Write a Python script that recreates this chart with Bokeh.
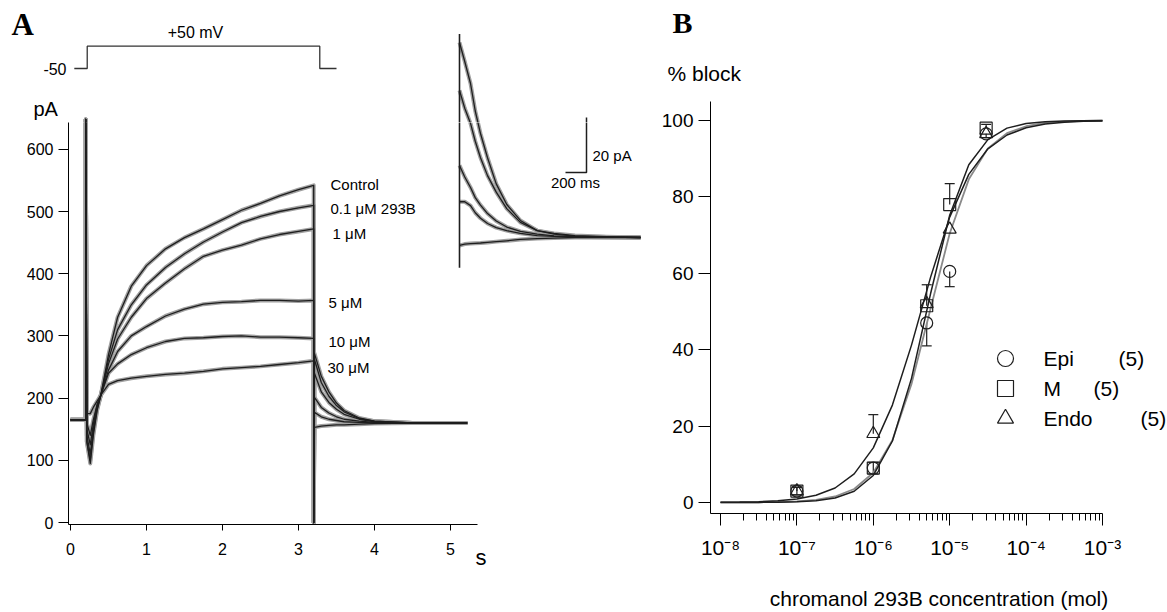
from bokeh.plotting import figure
from bokeh.models import (Range1d, Label, FixedTicker, Whisker, TeeHead, LinearAxis,
                          ColumnDataSource, CustomJSTickFormatter)
from bokeh.layouts import row, column
from bokeh.embed import file_html
from bokeh.resources import INLINE

# ======================= DATA: panel A (current traces, pA vs s) =======================
trace_labels = ["Control", "0.1 \u03bcM 293B", "1 \u03bcM", "5 \u03bcM", "10 \u03bcM", "30 \u03bcM"]

t_hold = [0.0, 0.2]
i_hold = [165, 165]

t_step = [0.2, 0.215, 0.26, 0.3, 0.35, 0.4, 0.5, 0.62, 0.8, 1.0, 1.25, 1.5, 1.75,
          2.0, 2.25, 2.5, 2.75, 3.0, 3.2]
i_step_control = [648, 130, 95, 140, 180, 205, 270, 330, 380, 413, 440, 458, 472, 487, 502, 513, 525, 535, 542]
i_step_01 = [648, 130, 100, 145, 182, 205, 262, 310, 350, 382, 410, 432, 451, 467, 482, 492, 500, 506, 510]
i_step_1 = [648, 140, 110, 150, 185, 205, 255, 295, 330, 360, 385, 408, 428, 438, 446, 456, 463, 468, 472]
i_step_5 = [648, 150, 125, 158, 188, 205, 245, 275, 300, 315, 332, 343, 351, 354, 355, 357, 357, 356, 357]
i_step_10 = [648, 160, 140, 165, 190, 205, 240, 255, 270, 281, 291, 296, 297, 299, 300, 298, 298, 297, 296]
i_step_30 = [648, 175, 175, 185, 195, 205, 222, 228, 232, 235, 238, 240, 243, 247, 249, 251, 254, 257, 260]

t_tail = [3.2, 3.21, 3.3, 3.4, 3.5, 3.6, 3.8, 4.0, 4.5, 5.22]
i_tail_control = [0, 272, 235, 210, 192, 180, 168, 163, 160, 160]
i_tail_01 = [0, 262, 225, 203, 188, 178, 167, 163, 160, 160]
i_tail_1 = [0, 240, 210, 193, 182, 174, 166, 162, 160, 160]
i_tail_5 = [0, 201, 185, 176, 170, 166, 163, 161, 160, 160]
i_tail_10 = [0, 177, 170, 166, 164, 162, 161, 160, 160, 160]
i_tail_30 = [0, 153, 155, 156, 157, 157, 158, 159, 160, 160]

# voltage protocol (mV vs s)
v_time = [0.05, 0.22, 0.22, 3.28, 3.28, 3.5]
v_level = [-50, -50, 50, 50, -50, -50]

# inset: tail currents (ms after repolarisation, pA above baseline)
inset_t = [0, 50, 105, 150, 200, 267, 350, 450, 580, 740, 900, 1100, 1400, 1730]
inset_1 = [70.9, 64, 56, 46, 37.8, 29, 19.5, 12, 6.2, 2.5, 1.5, 0.7, 0.3, 0]
inset_2 = [53.5, 47, 41.5, 35, 29, 22.5, 16.5, 10.5, 5.5, 2.5, 1.2, 0.5, 0.2, 0]
inset_3 = [26.2, 22, 18.2, 14.5, 11.8, 8.7, 6, 3.8, 2.2, 1.2, 0.6, 0.3, 0.1, 0]
inset_4 = [13, 13, 11.6, 9, 7, 5.1, 3.6, 2.5, 1.5, 0.7, 0.4, 0.2, 0.1, 0]
inset_5 = [-2.9, -2.4, -2.2, -2.1, -2.0, -1.8, -1.5, -1.2, -0.7, -0.4, -0.2, 0, 0, 0]
inset_spike_t = [0, 0]
inset_spike_i = [-11, 74]

# ======================= DATA: panel B (% block vs concentration) =======================
conc = [1e-7, 1e-6, 5e-6, 1e-5, 3e-5]
epi_block = [3, 9, 47, 60.5, 96.5]
epi_err_up = [0, 0, 0, 0, 0]
epi_err_dn = [1, 1.5, 6, 4, 1]
m_block = [3, 9, 51.5, 78, 98]
m_err_up = [1, 1.5, 5.5, 5.5, 1]
m_err_dn = [0, 0, 0, 0, 0]
endo_block = [3, 18, 52, 71.5, 96.5]
endo_err_up = [1, 5, 0, 0, 0]
endo_err_dn = [0, 0, 0, 0, 0]
legend_labels = ["Epi", "M", "Endo"]
legend_n = ["(5)", "(5)", "(5)"]

fit_log_conc = [-8, -7.75, -7.5, -7.25, -7, -6.75, -6.5, -6.25, -6, -5.75, -5.5, -5.25,
                -5, -4.75, -4.5, -4.25, -4, -3.75, -3.5, -3.25, -3]
fit_a = [0.05, 0.11, 0.22, 0.45, 0.93, 1.89, 3.8, 7.5, 14.3, 25.5, 41.2, 59.0, 74.7,
         85.9, 92.6, 96.2, 98.1, 99.1, 99.55, 99.8, 99.9]
fit_b = [0.0, 0.01, 0.03, 0.08, 0.19, 0.48, 1.19, 2.94, 7.08, 16.1, 32.5, 54.7, 75.2,
         88.4, 95.0, 98.0, 99.2, 99.7, 99.87, 99.95, 99.98]
fit_c = [0.01, 0.02, 0.06, 0.13, 0.30, 0.69, 1.57, 3.54, 7.8, 16.3, 31.0, 50.8, 70.4,
         84.6, 92.7, 96.7, 98.5, 99.4, 99.7, 99.88, 99.95]

x_ticks_b = [1e-8, 1e-7, 1e-6, 1e-5, 1e-4, 1e-3]
x_tick_labels_b = ["10\u207b\u2078", "10\u207b\u2077", "10\u207b\u2076",
                   "10\u207b\u2075", "10\u207b\u2074", "10\u207b\u00b3"]
y_ticks_b = [0, 20, 40, 60, 80, 100]
y_ticks_a = [0, 100, 200, 300, 400, 500, 600]
x_ticks_a = [0, 1, 2, 3, 4, 5]
x_unit_a = "s"
y_unit_a = "pA"
x_title_b = "chromanol 293B concentration (mol)"
y_title_b = "% block"

# ======================= LAYOUT (page pixels; page margin is 0) =======================
SANS = "Liberation Sans"
SERIF = "Liberation Serif"
INK = "#1e1e1e"
H = 612
A_W = 642
SPLIT_A = 122      # y where upper/lower part of panel A meet
SPLIT_B = 101

# ---- panel A calibration
A_L, A_R, A_B = 68, 640, 524
T0_PX, PX_PER_S = 70.0, 76.0
I0_PX, PX_PER_PA = 522.0, 0.622
MV_M50_PX, PX_PER_MV = 68.0, 0.223
IN_T0_PX, IN_PX_PER_MS = 459.0, 0.105
IN_I0_PX, IN_PX_PER_PA = 237.0, 2.75


def at(px):
    return (px - T0_PX) / PX_PER_S


def ai(py):
    return (I0_PX - py) / PX_PER_PA


def amv(py):
    return -50 + (MV_M50_PX - py) / PX_PER_MV


def it(px):
    return (px - IN_T0_PX) / IN_PX_PER_MS


def ii(py):
    return (IN_I0_PX - py) / IN_PX_PER_PA


def label(p, x, y, text, size, align="left", font=SANS, style="normal", **kw):
    p.add_layout(Label(x=x, y=y, text=text, text_font=font, text_font_size=size,
                       text_font_style=style, text_baseline="middle", text_align=align,
                       text_color="black", **kw))


def panel_a(x0, x1, y0, y1, **kw):
    p = figure(x_range=Range1d(at(x0), at(x1)), y_range=Range1d(ai(y1), ai(y0)),
               output_backend="svg", toolbar_location=None, **kw)
    p.frame_align = False
    p.extra_y_ranges = {"mv": Range1d(amv(y1), amv(y0)), "iy": Range1d(ii(y1), ii(y0))}
    p.extra_x_ranges = {"ix": Range1d(it(x0), it(x1))}
    p.outline_line_color = None
    p.grid.visible = False

    steps = [i_step_control, i_step_01, i_step_1, i_step_5, i_step_10, i_step_30]
    tails = [i_tail_control, i_tail_01, i_tail_1, i_tail_5, i_tail_10, i_tail_30]
    full_t = t_hold + t_step + t_tail
    for width, color in ((4, "#a0a0a0"), (1.3, INK)):
        for s, tl in zip(steps, tails):
            p.line(full_t, i_hold + s + tl, line_color=color, line_width=width,
                   line_join="round")
    p.line(v_time, v_level, y_range_name="mv", line_color="#333333", line_width=1.3)
    for width, color in ((4, "#a0a0a0"), (1.3, INK)):
        for tr in (inset_1, inset_2, inset_3, inset_4, inset_5):
            p.line(inset_t, tr, x_range_name="ix", y_range_name="iy",
                   line_color=color, line_width=width, line_join="round")
    p.line(inset_spike_t, inset_spike_i, x_range_name="ix", y_range_name="iy",
           line_color=INK, line_width=1.6)
    # scale bar 20 pA / 200 ms
    sb_t_end, sb_i0 = it(586), ii(172)
    p.line([sb_t_end - 200, sb_t_end, sb_t_end], [sb_i0, sb_i0, sb_i0 + 20],
           x_range_name="ix", y_range_name="iy", line_color=INK, line_width=1.5)
    return p


# ---- upper strip of panel A (protocol, panel letter, unit)
top_a = panel_a(0, A_W, 0, SPLIT_A, frame_width=A_W, frame_height=SPLIT_A,
                min_border_left=0, min_border_right=0, min_border_top=0,
                min_border_bottom=0, x_axis_location=None, y_axis_location=None)
label(top_a, at(195), amv(32), "+50 mV", "16px", align="center", y_range_name="mv")
label(top_a, at(66), -50, "-50", "16px", align="right", y_range_name="mv")
label(top_a, at(33), ai(108), y_unit_a, "20px")
label(top_a, at(11), ai(24), "A", "31px", font=SERIF, style="bold")

# ---- lower part of panel A (axes + traces)
bot_a = panel_a(A_L, A_R, SPLIT_A, A_B, frame_width=A_R - A_L, frame_height=A_B - SPLIT_A,
                min_border_left=A_L, min_border_right=A_W - A_R, min_border_top=0,
                min_border_bottom=H - A_B)
bot_a.xaxis.ticker = FixedTicker(ticks=x_ticks_a)
bot_a.xaxis.bounds = (at(A_L), at(477))
bot_a.yaxis.ticker = FixedTicker(ticks=y_ticks_a)
bot_a.yaxis.bounds = (ai(A_B), ai(SPLIT_A))
for ax in (bot_a.xaxis[0], bot_a.yaxis[0]):
    ax.axis_line_color = "black"
    ax.major_tick_line_color = "black"
    ax.major_tick_in = 0
    ax.minor_tick_line_color = None
    ax.major_label_text_font = SANS
    ax.major_label_text_font_size = "16px"
    ax.major_label_text_color = "black"
bot_a.xaxis.major_tick_out = 6
bot_a.xaxis.major_label_standoff = 12
bot_a.yaxis.major_tick_out = 10
bot_a.yaxis.major_label_standoff = 5
# unit "s" at the end of the time axis (second, bare axis carrying one label)
s_axis = LinearAxis(ticker=FixedTicker(ticks=[5.4]),
                    formatter=CustomJSTickFormatter(code="return '%s'" % x_unit_a),
                    axis_line_color=None, major_tick_line_color=None,
                    minor_tick_line_color=None, major_tick_out=0, major_tick_in=0,
                    major_label_standoff=-13, major_label_text_font=SANS,
                    major_label_text_font_size="22px", major_label_text_color="black")
bot_a.add_layout(s_axis, "below")

label(bot_a, it(592), ii(155), "20 pA", "15px", x_range_name="ix", y_range_name="iy")
label(bot_a, it(575), ii(182), "200 ms", "15px", align="center",
      x_range_name="ix", y_range_name="iy")
label_px = [(330, 184), (330, 208), (332, 233), (328, 302), (328, 341), (327, 367)]
for txt, (lx, ly) in zip(trace_labels, label_px):
    label(bot_a, at(lx), ai(ly), txt, "15px")

# ======================= panel B =======================
B_L, B_R, B_B = 710, 1167, 513
DEC0_PX, PX_PER_DEC = 720.0, 76.4
Y0_PX, PX_PER_UNIT = 502.0, 3.82


def bx(px):
    return 10 ** (-8 + (px - DEC0_PX) / PX_PER_DEC)


def by(py):
    return (Y0_PX - py) / PX_PER_UNIT


top_b = figure(frame_width=B_R - A_W, frame_height=SPLIT_B, min_border_left=0,
               min_border_right=0, min_border_top=0, min_border_bottom=0,
               x_axis_location=None, y_axis_location=None,
               x_range=Range1d(A_W, B_R), y_range=Range1d(SPLIT_B, 0),
               output_backend="svg", toolbar_location=None)
top_b.frame_align = False
top_b.outline_line_color = None
top_b.grid.visible = False
label(top_b, 672, 22, "B", "30px", font=SERIF, style="bold")
label(top_b, 667, 73, y_title_b, "21px")

pb = figure(frame_width=B_R - B_L, frame_height=B_B - SPLIT_B,
            min_border_left=B_L - A_W, min_border_right=0,
            min_border_top=0, min_border_bottom=H - B_B,
            x_axis_type="log",
            x_range=Range1d(bx(B_L), bx(B_R)), y_range=Range1d(by(B_B), by(SPLIT_B)),
            output_backend="svg", toolbar_location=None)
pb.frame_align = False
pb.outline_line_color = None
pb.grid.visible = False

minor = [k * t for t in x_ticks_b[:-1] for k in range(2, 10)]
pb.xaxis.ticker = FixedTicker(ticks=x_ticks_b, minor_ticks=minor)
pb.xaxis.major_label_overrides = dict(zip(x_ticks_b, x_tick_labels_b))
pb.xaxis.bounds = (bx(B_L), x_ticks_b[-1])
pb.xaxis.major_tick_out = 12
pb.xaxis.major_tick_in = 0
pb.xaxis.minor_tick_out = 7
pb.xaxis.minor_tick_in = 0
pb.xaxis.axis_line_color = "black"
pb.xaxis.major_tick_line_color = "black"
pb.xaxis.minor_tick_line_color = "black"
pb.xaxis.major_label_standoff = 10
pb.xaxis.major_label_text_font = SANS
pb.xaxis.major_label_text_font_size = "21px"
pb.xaxis.major_label_text_color = "black"
pb.xaxis.axis_label = x_title_b
pb.xaxis.axis_label_standoff = 25
pb.xaxis.axis_label_text_font = SANS
pb.xaxis.axis_label_text_font_style = "normal"
pb.xaxis.axis_label_text_font_size = "21px"
pb.xaxis.axis_label_text_color = "black"

pb.yaxis.ticker = FixedTicker(ticks=y_ticks_b)
pb.yaxis.major_tick_out = 12
pb.yaxis.major_tick_in = 0
pb.yaxis.minor_tick_line_color = None
pb.yaxis.major_label_standoff = 5
pb.yaxis.major_label_text_font = SANS
pb.yaxis.major_label_text_font_size = "19px"
pb.yaxis.major_label_text_color = "black"
pb.yaxis.axis_line_color = "black"

fit_x = [10.0 ** v for v in fit_log_conc]
pb.line(fit_x, fit_c, line_color="#8a8a8a", line_width=1.8)
pb.line(fit_x, fit_a, line_color=INK, line_width=1.5)
pb.line(fit_x, fit_b, line_color=INK, line_width=1.5)


def add_err(ys, up, dn):
    ux = [c for c, u in zip(conc, up) if u > 0]
    uy = [y for y, u in zip(ys, up) if u > 0]
    uu = [y + u for y, u in zip(ys, up) if u > 0]
    if ux:
        src = ColumnDataSource(dict(x=ux, lo=uy, hi=uu))
        pb.add_layout(Whisker(source=src, base="x", lower="lo", upper="hi",
                              line_color=INK, line_width=1.2, lower_head=None,
                              upper_head=TeeHead(size=10, line_color=INK, line_width=1.2)))
    dx = [c for c, d in zip(conc, dn) if d > 0]
    dy = [y for y, d in zip(ys, dn) if d > 0]
    dd = [y - d for y, d in zip(ys, dn) if d > 0]
    if dx:
        src = ColumnDataSource(dict(x=dx, lo=dd, hi=dy))
        pb.add_layout(Whisker(source=src, base="x", lower="lo", upper="hi",
                              line_color=INK, line_width=1.2, upper_head=None,
                              lower_head=TeeHead(size=10, line_color=INK, line_width=1.2)))


add_err(epi_block, epi_err_up, epi_err_dn)
add_err(m_block, m_err_up, m_err_dn)
add_err(endo_block, endo_err_up, endo_err_dn)

markers = ["circle", "square", "triangle"]
series = [epi_block, m_block, endo_block]
sizes = [12, 12, 13]
for mk, ys, sz in zip(markers, series, sizes):
    pb.scatter(conc, ys, marker=mk, size=sz, fill_color=None, line_color=INK,
               line_width=1.2)

# legend
leg_rows = [358, 388, 418]
leg_n_px = [1118, 1093, 1140]
for mk, lab, n, ly, nx in zip(markers, legend_labels, legend_n, leg_rows, leg_n_px):
    pb.scatter([bx(1005)], [by(ly)], marker=mk, size=16, fill_color=None,
               line_color=INK, line_width=1.2)
    label(pb, bx(1043), by(ly), lab, "21px")
    label(pb, bx(nx), by(ly), n, "21px")

layout = row(column(top_a, bot_a), column(top_b, pb))
open("out.html", "w").write(file_html(layout, INLINE))
